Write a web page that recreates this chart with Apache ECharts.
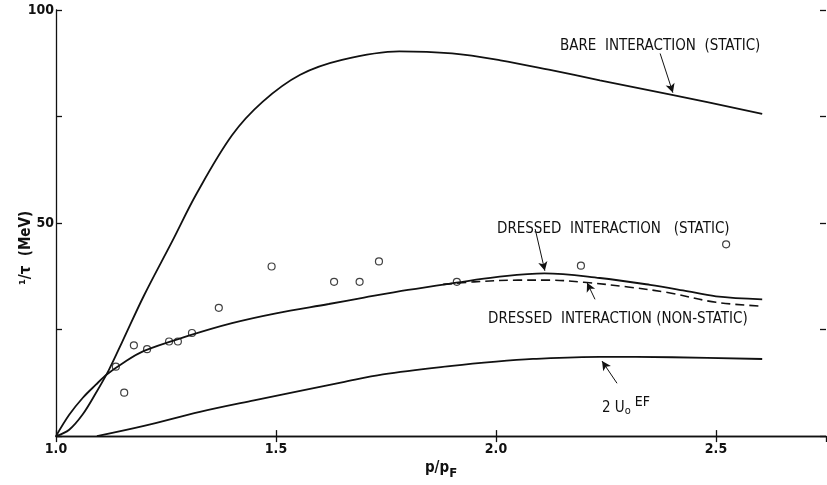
<!DOCTYPE html>
<html>
<head>
<meta charset="utf-8">
<script src="https://cdn.jsdelivr.net/npm/echarts@6/dist/echarts.min.js"></script>
<style>
  html, body { margin: 0; padding: 0; background: #fff; }
  #chart { width: 827px; height: 485px; }
</style>
</head>
<body>
<div id="chart"></div>
<script>
// data (x = p/pF, y = 1/tau in MeV)
var bareX = [1.0, 1.03, 1.06, 1.09, 1.12, 1.15, 1.2, 1.264, 1.32, 1.40, 1.47, 1.555, 1.65, 1.78, 1.9, 2.01, 2.12, 2.236, 2.40, 2.605];
var bareY = [0, 1.5, 5, 10, 15.5, 22, 33, 45.7, 57, 70.6, 78.5, 84.8, 88.3, 90.3, 89.8, 88.2, 86, 83.5, 80.1, 75.6];

var dressedX = [1.0, 1.03, 1.061, 1.09, 1.116, 1.15, 1.2, 1.3, 1.4, 1.5, 1.62, 1.7, 1.8, 1.91, 2.0, 2.11, 2.236, 2.35, 2.425, 2.5, 2.605];
var dressedY = [0, 5, 9, 12, 14.5, 17, 20, 23.5, 26.5, 28.8, 31, 32.5, 34.3, 36, 37.3, 38.2, 37.1, 35.5, 34.2, 32.8, 32.1];

var nonStaticX = [1.88, 1.95, 2.05, 2.12, 2.2, 2.3, 2.39, 2.5, 2.605];
var nonStaticY = [35.6, 36.2, 36.6, 36.6, 36.1, 35, 33.7, 31.4, 30.5];

var efX = [1.093, 1.2, 1.327, 1.45, 1.555, 1.65, 1.743, 1.9, 2.0, 2.084, 2.236, 2.4, 2.605];
var efY = [0, 2.4, 5.7, 8.4, 10.6, 12.6, 14.5, 16.5, 17.5, 18.1, 18.6, 18.5, 18.1];

var expX = [1.136, 1.155, 1.177, 1.207, 1.257, 1.277, 1.309, 1.37, 1.49, 1.632, 1.69, 1.734, 1.911, 2.193, 2.523];
var expY = [16.3, 10.2, 21.3, 20.4, 22.2, 22.2, 24.2, 30.1, 39.8, 36.2, 36.2, 41, 36.2, 40, 45];

var yTickLabels = { 50: '50', 100: '100' };

// arrows pointing from the labels to the curves
var arrows = [
  [[2.373, 89.8], [2.402, 80.6]],
  [[2.089, 48.6], [2.111, 38.8]],
  [[2.225, 32.1], [2.207, 36.0]],
  [[2.275, 12.4], [2.241, 17.6]]
];

function pairs(xs, ys) {
  var out = [];
  for (var i = 0; i < xs.length; i++) out.push([xs[i], ys[i]]);
  return out;
}

var font = "'Liberation Sans Narrow', 'DejaVu Sans Condensed', 'Liberation Sans', sans-serif";
var ink = '#111';

var chart = echarts.init(document.getElementById('chart'));

var lineStyle = { color: ink, width: 1.8 };

var option = {
  backgroundColor: '#fff',
  animation: false,
  grid: { left: 56, right: 1, top: 10, bottom: 33 },
  xAxis: [
    {
      type: 'value', min: 1, max: 2.75, interval: 0.5, position: 'bottom',
      axisLine: { lineStyle: { color: ink, width: 1.3 } },
      axisTick: { inside: true, length: 6, lineStyle: { color: ink, width: 1.3 } },
      splitLine: { show: false },
      axisLabel: {
        color: ink, fontFamily: font, fontWeight: 'bold', fontSize: 14, margin: 6,
        showMaxLabel: false,
        formatter: function (v) { return v.toFixed(1); }
      },
      name: '{a|p/p}{b|F}', nameLocation: 'middle', nameGap: 18,
      nameTextStyle: {
        rich: {
          a: { fontFamily: font, fontWeight: 'bold', fontSize: 15, color: ink },
          b: { fontFamily: font, fontWeight: 'bold', fontSize: 13, color: ink, padding: [10, 0, 0, 0] }
        }
      }
    },
    {
      type: 'value', min: 1, max: 2.75, interval: 0.5, position: 'top',
      axisLine: { lineStyle: { color: ink, width: 1.3 } },
      axisTick: { inside: true, length: 6, lineStyle: { color: ink, width: 1.3 } },
      splitLine: { show: false },
      axisLabel: { show: false }
    }
  ],
  yAxis: [
    {
      type: 'value', min: 0, max: 100, interval: 25, position: 'left',
      axisLine: { show: true, lineStyle: { color: ink, width: 1.3 } },
      axisTick: { show: true, inside: true, length: 6, lineStyle: { color: ink, width: 1.3 } },
      splitLine: { show: false },
      axisLabel: {
        color: ink, fontFamily: font, fontWeight: 'bold', fontSize: 14, margin: 2,
        formatter: function (v) { return yTickLabels[v] || ''; }
      }
    },
    {
      type: 'value', min: 0, max: 100, interval: 25, position: 'right',
      axisLine: { show: false },
      axisTick: { show: true, inside: true, length: 6, lineStyle: { color: ink, width: 1.3 } },
      splitLine: { show: false },
      axisLabel: { show: false }
    }
  ],
  series: [
    {
      name: 'bare', type: 'line', smooth: 0.35, showSymbol: false,
      data: pairs(bareX, bareY), lineStyle: lineStyle,
      markLine: {
        silent: true, symbol: ['none', 'arrow'], symbolSize: [7, 9],
        lineStyle: { color: ink, width: 1, type: 'solid' },
        label: { show: false },
        data: arrows.map(function (a) { return [{ coord: a[0] }, { coord: a[1] }]; })
      }
    },
    {
      name: 'dressed', type: 'line', smooth: 0.35, showSymbol: false,
      data: pairs(dressedX, dressedY), lineStyle: lineStyle
    },
    {
      name: 'nonstatic', type: 'line', smooth: 0.35, showSymbol: false,
      data: pairs(nonStaticX, nonStaticY),
      lineStyle: { color: ink, width: 1.6, type: [9, 5] }
    },
    {
      name: 'ef', type: 'line', smooth: 0.35, showSymbol: false,
      data: pairs(efX, efY), lineStyle: lineStyle
    },
    {
      name: 'exp', type: 'scatter', symbol: 'circle', symbolSize: 7,
      data: pairs(expX, expY),
      itemStyle: { color: '#fff', borderColor: ink, borderWidth: 1.2 }
    }
  ],
  graphic: [
    {
      type: 'text', x: 26, y: 248, rotation: Math.PI / 2,
      style: { text: '¹/τ  (MeV)', fill: ink, font: 'bold 15px ' + font, align: 'center', verticalAlign: 'middle' }
    },
    { type: 'text', x: 560, y: 46, style: { text: 'BARE  INTERACTION  (STATIC)', fill: ink, font: '15px ' + font, verticalAlign: 'middle' } },
    { type: 'text', x: 497, y: 229, style: { text: 'DRESSED  INTERACTION   (STATIC)', fill: ink, font: '15px ' + font, verticalAlign: 'middle' } },
    { type: 'text', x: 488, y: 319, style: { text: 'DRESSED  INTERACTION (NON-STATIC)', fill: ink, font: '15px ' + font, verticalAlign: 'middle' } },
    {
      type: 'text', x: 602, y: 408,
      style: {
        text: '{a|2 U}{b|o}{c|EF}', verticalAlign: 'middle',
        rich: {
          a: { fontFamily: font, fontSize: 15, fill: ink },
          b: { fontFamily: font, fontSize: 11, fill: ink, padding: [6, 0, 0, 0] },
          c: { fontFamily: font, fontSize: 14, fill: ink, padding: [0, 0, 12, 4] }
        }
      }
    }
  ]
};

chart.setOption(option);
</script>
</body>
</html>
